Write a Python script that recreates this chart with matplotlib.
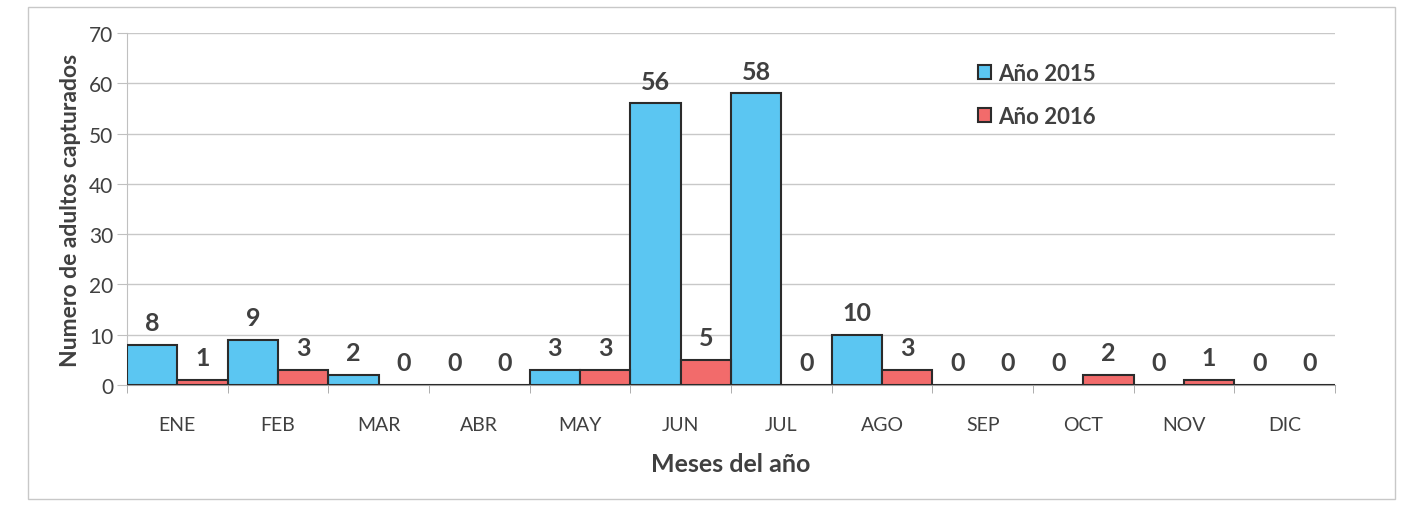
import matplotlib
matplotlib.use("Agg")
import matplotlib.pyplot as plt
from matplotlib.patches import Rectangle
import numpy as np

months = ["ENE", "FEB", "MAR", "ABR", "MAY", "JUN", "JUL", "AGO", "SEP", "OCT", "NOV", "DIC"]
y2015 = [8, 9, 2, 0, 3, 56, 58, 10, 0, 0, 0, 0]
y2016 = [1, 3, 0, 0, 3, 5, 0, 3, 0, 2, 1, 0]
series_names = ["Año 2015", "Año 2016"]

plt.rcParams['font.family'] = ['Lato', 'DejaVu Sans']
W, H = 1409, 510
fig = plt.figure(figsize=(W / 100, H / 100), dpi=100)
ax = fig.add_axes([127 / W, 1 - 386 / H, (1335 - 127) / W, (386 - 34) / H])

fig.patches.append(Rectangle((28 / W, 1 - 500 / H), (1395 - 28) / W, (500 - 8) / H,
                             transform=fig.transFigure, fill=False, edgecolor="#c8c8c8", lw=1))

x = np.arange(len(months))
w = 0.5
text_col = "#404040"
b1 = ax.bar(x - w / 2, y2015, w, color="#5bc6f2", edgecolor="#2b2b2b", lw=1.5, label=series_names[0], zorder=3)
b2 = ax.bar(x + w / 2, y2016, w, color="#f26b6b", edgecolor="#2b2b2b", lw=1.5, label=series_names[1], zorder=3)

for bars, vals in ((b1, y2015), (b2, y2016)):
    for rect, v in zip(bars, vals):
        ax.annotate(str(v), (rect.get_x() + rect.get_width() / 2, v), xytext=(0, 16),
                    textcoords="offset points", ha="center", va="center",
                    fontsize=18, fontweight="bold", color=text_col)

ax.set_xlim(-0.5, len(months) - 0.5)
ax.set_ylim(0, 70)
ax.set_yticks(range(0, 71, 10))
ax.set_xticks(x)
ax.set_xticklabels(months)
ax.set_xticks(np.arange(-0.5, len(months), 1), minor=True)
ax.tick_params(axis="x", which="major", length=0, pad=22, labelsize=14, labelcolor=text_col)
ax.tick_params(axis="x", which="minor", length=6, color="#a0a0a0")
ax.tick_params(axis="y", length=7, color="#c0c0c0", labelsize=15, labelcolor=text_col, pad=3)
ax.grid(axis="y", color="#c8c8c8", lw=1, zorder=0)
ax.set_axisbelow(True)
for s in ["top", "right"]:
    ax.spines[s].set_visible(False)
ax.spines["left"].set_color("#c0c0c0")
ax.spines["bottom"].set_color("#a0a0a0")

ax.set_xlabel("Meses del año", fontsize=18, fontweight="bold", color=text_col, labelpad=14)
ax.set_ylabel("Numero de adultos capturados", fontsize=16.5, fontweight="bold", color=text_col, labelpad=6)

leg = ax.legend(loc="upper left", bbox_to_anchor=((958 - 127) / (1335 - 127), 1 - (44 - 34) / 352),
                frameon=False, prop={"weight": "bold", "size": 16}, labelcolor=text_col,
                handlelength=0.6, handleheight=0.6, handletextpad=0.3, labelspacing=1.0)

fig.savefig("out.png", dpi=100)
